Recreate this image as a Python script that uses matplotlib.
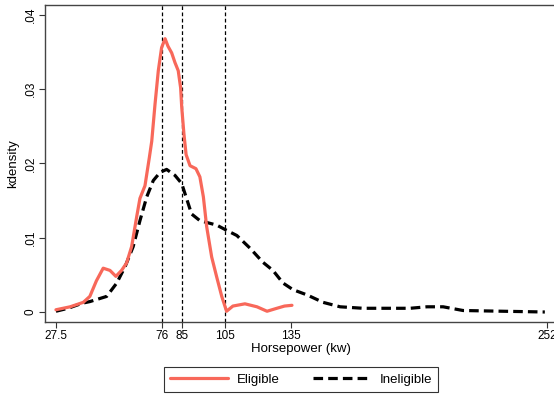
import matplotlib.pyplot as plt

plt.rcParams['font.family'] = ['Liberation Sans', 'DejaVu Sans']

# kdensity, eligible cars
elig_x = [27.5, 34, 40, 43, 46, 49.1, 52.2, 54.9, 57.5, 59.8, 62.1, 64.4, 65.9, 68.2, 70.2, 71.3,
          72.8, 74.3, 75.8, 77.4, 78.7, 80.4, 81.9, 83.4, 84.5, 85, 86, 87, 88.8, 91.5, 93.3,
          94.9, 96.4, 98.7, 101, 103.3, 105.5, 108.4, 113.9, 119.4, 124, 128.5, 132, 135.4]
elig_y = [0.0003, 0.0007, 0.0013, 0.0021, 0.0042, 0.0059, 0.0056, 0.0048, 0.0056, 0.0066, 0.0088,
          0.0128, 0.0153, 0.017, 0.0208, 0.023, 0.028, 0.0325, 0.0356, 0.0368, 0.0358, 0.0349,
          0.0336, 0.0325, 0.0302, 0.0276, 0.024, 0.0212, 0.0197, 0.0193, 0.0182, 0.0155, 0.0115,
          0.0074, 0.0047, 0.0021, 0.0001, 0.0008, 0.0011, 0.0007, 0.0001, 0.0005, 0.0008, 0.0009]

# kdensity, ineligible cars
inel_x = [27.5, 33, 39.8, 43, 50.7, 55.3, 59.1, 62.8, 65.9, 69, 72, 75.1, 78.1, 81.9, 85, 87.2,
          89.5, 93.3, 101, 105.5, 110.2, 116.2, 122.1, 126.7, 131.3, 135.9, 142.3, 149.6, 157.4,
          167.9, 180.2, 189.4, 197.1, 204.5, 213.6, 231.9, 251]
inel_y = [0.0001, 0.0005, 0.0012, 0.0014, 0.0021, 0.0039, 0.0061, 0.0088, 0.0123, 0.0155, 0.0177,
          0.0188, 0.0192, 0.0184, 0.0173, 0.0153, 0.0132, 0.0123, 0.0117, 0.011, 0.0103, 0.0086,
          0.0067, 0.0056, 0.0039, 0.003, 0.0023, 0.0013, 0.0007, 0.0005, 0.0005, 0.0005, 0.0007,
          0.0007, 0.0002, 0.0001, 0.0]

cutoffs = [76, 85, 105]
xticks = [27.5, 76, 85, 105, 135, 252]
xtick_labels = ['27.5', '76', '85', '105', '135', '252']
yticks = [0, 0.01, 0.02, 0.03, 0.04]
ytick_labels = ['0', '.01', '.02', '.03', '.04']

fig = plt.figure(figsize=(5.54, 3.96), dpi=100)
ax = fig.add_axes([45 / 554, 1 - 321.5 / 396, 511 / 554, 316.5 / 396])

for c in cutoffs:
    ax.axvline(c, color='black', lw=0.9, ls=(0, (3, 2)), zorder=1)

ax.plot(elig_x, elig_y, color='#f8685a', lw=2.3, label='Eligible', zorder=3,
        solid_joinstyle='round', solid_capstyle='round')
ax.plot(inel_x, inel_y, color='black', lw=2.3, ls=(0, (3, 1.6)), label='Ineligible', zorder=2)

ax.set_xlim(22.5, 256.1)
ax.set_ylim(-0.00128, 0.04134)
ax.set_xticks(xticks)
ax.set_xticklabels(xtick_labels)
ax.set_yticks(yticks)
ax.set_yticklabels(ytick_labels, rotation=90, va='center')
ax.tick_params(labelsize=8.5, length=4, width=0.8, color='#333333', pad=2)
for s in ax.spines.values():
    s.set_linewidth(1.0)
    s.set_color('#444444')

ax.set_xlabel('Horsepower (kw)', fontsize=9.5, labelpad=1)
ax.set_ylabel('kdensity', fontsize=9.5, labelpad=4)

leg = fig.legend(loc='center', bbox_to_anchor=(301 / 554, 1 - 379.5 / 396), ncol=2,
                 fontsize=9.5, frameon=True, fancybox=False, handlelength=4.4,
                 handletextpad=0.7, columnspacing=2.5, borderpad=0.45)
leg.get_frame().set_edgecolor('black')
leg.get_frame().set_linewidth(0.8)

fig.savefig('out.png', dpi=100)
